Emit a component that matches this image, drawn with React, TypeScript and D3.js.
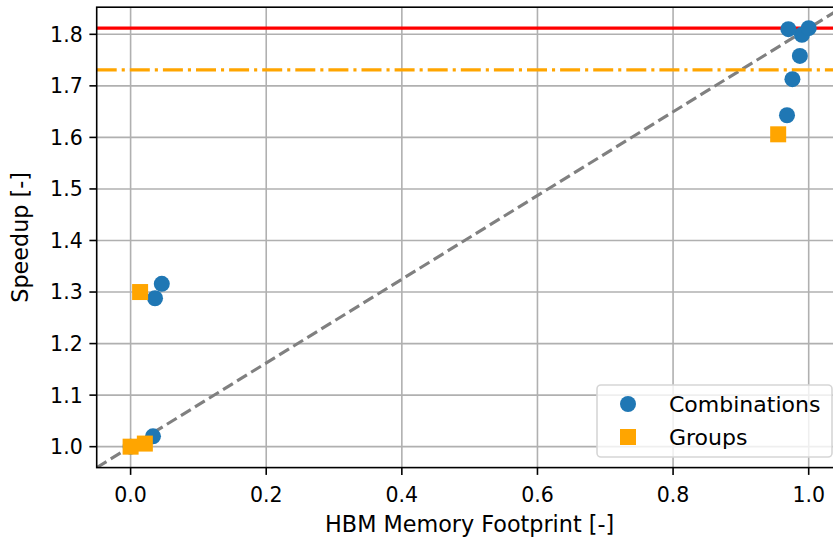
import * as d3 from "d3";
import React, { useEffect } from "react";

// Combinations (blue circles)
const combX = [0.0, 0.033, 0.036, 0.046, 0.968, 0.976, 0.987, 0.99, 0.97, 1.0];
const combY = [1.0, 1.02, 1.288, 1.316, 1.643, 1.713, 1.758, 1.799, 1.81, 1.812];
// Groups (orange squares)
const groupX = [0.0, 0.021, 0.014, 0.955];
const groupY = [1.0, 1.006, 1.3, 1.606];

const maxSpeedup = 1.812; // red line
const groupMax = 1.731; // orange dash-dot line

const xTicks = [0.0, 0.2, 0.4, 0.6, 0.8, 1.0];
const yTicks = [1.0, 1.1, 1.2, 1.3, 1.4, 1.5, 1.6, 1.7, 1.8];

const W = 833;
const H = 540;
const margin = { top: 7.2, right: -9.6, bottom: 72.4, left: 96.7 };
const FONT = "DejaVu Sans, sans-serif";
const FS = 20.5; // ticks
const LFS = 22.3; // axis labels
const GFS = 22; // legend

const App: React.FC = () => {
  useEffect(() => {
    document.body.style.margin = "0";
  }, []);

  const x = d3
    .scaleLinear()
    .domain([-0.05, 1.05])
    .range([margin.left, W - margin.right]);
  const y = d3
    .scaleLinear()
    .domain([0.9594, 1.8526])
    .range([H - margin.bottom, margin.top]);

  const [x0, x1] = x.range();
  const [y0, y1] = y.range();

  const diag = (v: number) => 1 + (maxSpeedup - 1) * v;
  const sq = 16;

  return (
    <svg width={W} height={H} style={{ display: "block", fontFamily: FONT }}>
      <defs>
        <clipPath id="plot">
          <rect x={x0} y={y1} width={x1 - x0} height={y0 - y1} />
        </clipPath>
      </defs>
      <rect width={W} height={H} fill="#fff" />

      {/* grid */}
      <g stroke="#b0b0b0" strokeWidth={1.6}>
        {xTicks.map((t) => (
          <line key={"gx" + t} x1={x(t)} x2={x(t)} y1={y0} y2={y1} />
        ))}
        {yTicks.map((t) => (
          <line key={"gy" + t} x1={x0} x2={x1} y1={y(t)} y2={y(t)} />
        ))}
      </g>

      <g clipPath="url(#plot)">
        {/* ideal line */}
        <line
          x1={x(-0.05)}
          y1={y(diag(-0.05))}
          x2={x(1.05)}
          y2={y(diag(1.05))}
          stroke="#808080"
          strokeWidth={3.1}
          strokeDasharray="11.5,5"
        />
        <line
          x1={x0}
          x2={x1}
          y1={y(maxSpeedup)}
          y2={y(maxSpeedup)}
          stroke="#ff0000"
          strokeWidth={3.1}
        />
        <line
          x1={x0}
          x2={x1}
          y1={y(groupMax)}
          y2={y(groupMax)}
          stroke="#ffa500"
          strokeWidth={3.1}
          strokeDasharray="20,5,3.1,5"
        />
        {combX.map((v, i) => (
          <circle key={"c" + i} cx={x(v)} cy={y(combY[i])} r={8} fill="#1f77b4" />
        ))}
        {groupX.map((v, i) => (
          <rect
            key={"s" + i}
            x={x(v) - sq / 2}
            y={y(groupY[i]) - sq / 2}
            width={sq}
            height={sq}
            fill="#ffa500"
          />
        ))}
      </g>

      {/* spines */}
      <rect
        x={x0}
        y={y1}
        width={x1 - x0}
        height={y0 - y1}
        fill="none"
        stroke="#000"
        strokeWidth={1.6}
      />

      {/* x ticks */}
      {xTicks.map((t) => (
        <g key={"xt" + t} transform={`translate(${x(t)},${y0})`}>
          <line y2={7.3} stroke="#000" strokeWidth={1.6} />
          <text y={34} textAnchor="middle" fontSize={FS} fill="#000">
            {d3.format(".1f")(t)}
          </text>
        </g>
      ))}
      {/* y ticks */}
      {yTicks.map((t) => (
        <g key={"yt" + t} transform={`translate(${x0},${y(t)})`}>
          <line x2={-7.3} stroke="#000" strokeWidth={1.6} />
          <text x={-14} dy="0.36em" textAnchor="end" fontSize={FS} fill="#000">
            {d3.format(".1f")(t)}
          </text>
        </g>
      ))}

      <text x={(x0 + x1) / 2} y={532} textAnchor="middle" fontSize={LFS}>
        HBM Memory Footprint [-]
      </text>
      <text
        transform={`translate(28,${(y0 + y1) / 2}) rotate(-90)`}
        textAnchor="middle"
        fontSize={LFS}
      >
        Speedup [-]
      </text>

      {/* legend */}
      <g>
        <rect
          x={597}
          y={385}
          width={235}
          height={72}
          rx={4}
          fill="#fff"
          fillOpacity={0.8}
          stroke="#d6d6d6"
          strokeWidth={1.6}
        />
        <circle cx={628} cy={404} r={8} fill="#1f77b4" />
        <rect x={620} y={429} width={sq} height={sq} fill="#ffa500" />
        <text x={669} y={404} dy="0.36em" fontSize={GFS}>
          Combinations
        </text>
        <text x={669} y={437} dy="0.36em" fontSize={GFS}>
          Groups
        </text>
      </g>
    </svg>
  );
};

export default App;
